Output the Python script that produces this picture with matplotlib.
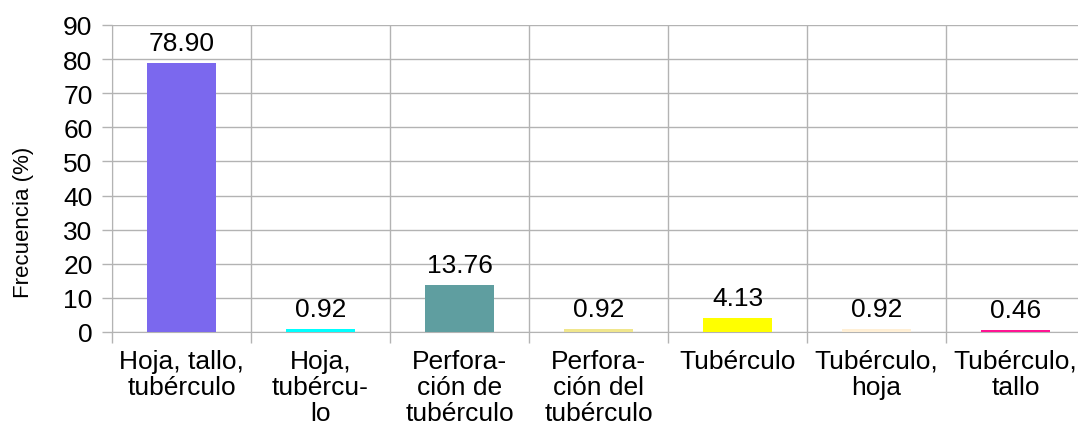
import matplotlib.pyplot as plt
import numpy as np

plt.rcParams['font.family'] = ['Liberation Sans', 'DejaVu Sans']

categories = ['Hoja, tallo,\ntubérculo', 'Hoja,\ntubércu-\nlo', 'Perfora-\nción de\ntubérculo',
              'Perfora-\nción del\ntubérculo', 'Tubérculo', 'Tubérculo,\nhoja', 'Tubérculo,\ntallo']
values = [78.90, 0.92, 13.76, 0.92, 4.13, 0.92, 0.46]
colors = ['#7b68ee', '#00ffff', '#5f9ea0', '#f0e68c', '#ffff00', '#ffefd5', '#ff1493']

grid = '#b3b3b3'

fig = plt.figure(figsize=(10.78, 4.39), dpi=100)
ax = fig.add_axes([112/1078, 1-333/439, 973/1078, 307/439])

x = np.arange(len(categories))
ax.bar(x, values, width=0.5, color=colors, zorder=3)
for xi, v in zip(x, values):
    ax.annotate(f'{v:.2f}', (xi, v), xytext=(0, 6), textcoords='offset points',
                ha='center', va='bottom', fontsize=19)

ax.set_xlim(-0.5, len(categories) - 0.5)
ax.set_ylim(0, 90)
ax.set_yticks(range(0, 91, 10))
ax.set_xticks(x)
ax.set_xticklabels(categories, fontsize=19, linespacing=1.12)
ax.set_xticks(np.arange(-0.5, len(categories), 1), minor=True)
ax.tick_params(axis='y', labelsize=19, length=7, color=grid, width=1, pad=7)
ax.tick_params(axis='x', which='major', length=0, pad=12)
ax.tick_params(axis='x', which='minor', length=8, color=grid, width=1)
ax.grid(axis='y', color=grid, linewidth=1, zorder=0)
ax.grid(axis='x', which='minor', color=grid, linewidth=1, zorder=0)
for s in ['top', 'right']:
    ax.spines[s].set_visible(False)
for s in ['left', 'bottom']:
    ax.spines[s].set_color(grid)
ax.set_ylabel('Frecuencia (%)', fontsize=16)
ax.yaxis.set_label_coords(-0.080, 0.36)

fig.savefig('out.png', dpi=100)
